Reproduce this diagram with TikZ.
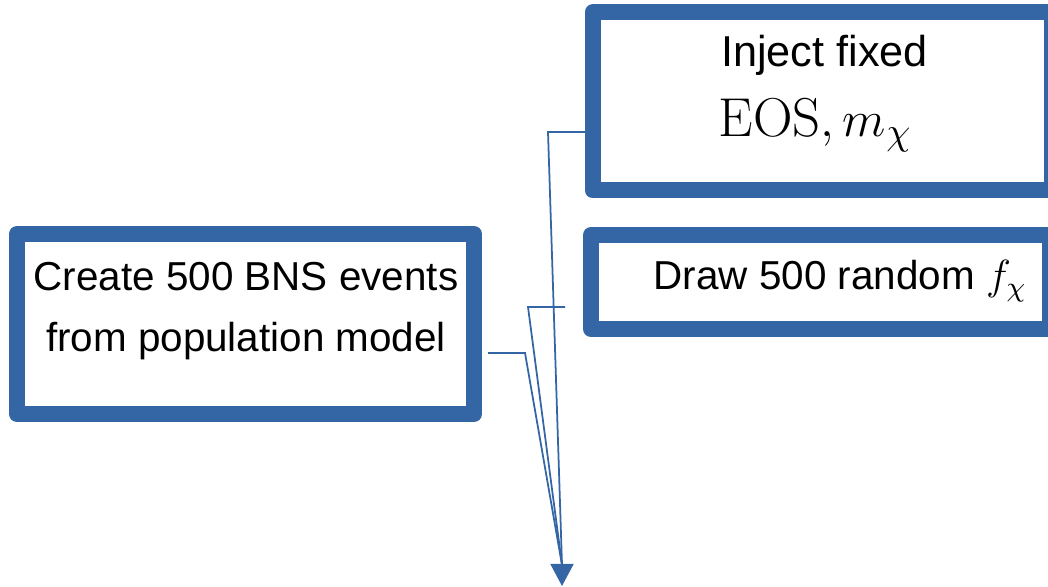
\documentclass[tikz,border=0pt]{standalone}
\usepackage{fontspec}
\setsansfont{Liberation Sans}
\definecolor{frameblue}{HTML}{3465A4}
\usetikzlibrary{arrows.meta}

\begin{document}
\begin{tikzpicture}[
  stepbox/.style={draw=frameblue, line width=0.16cm, line join=round,
                  fill=white, inner sep=0pt, outer sep=0pt},
  boxtext/.style={font=\sffamily\fontsize{11.5}{17.4}\selectfont,
                  align=center, inner sep=0pt},
  link/.style={draw=frameblue, line width=0.5pt},
]
\useasboundingbox (0,0) rectangle (10.48,5.87);

\node[stepbox, minimum width=4.57cm, minimum height=1.80cm] (bns) at (2.455,2.63) {};
\node[boxtext] (bnstext) at (2.46,2.76) {Create 500 BNS events\\from population model};

\node[stepbox, minimum width=4.59cm, minimum height=1.78cm] (eos) at (8.22,4.855) {};
\node[boxtext, anchor=base, font=\sffamily\fontsize{12.3}{15}\selectfont] (eostext) at (8.245,5.20) {Inject fixed};
\node[boxtext, anchor=base, font=\fontsize{15.6}{19}\selectfont] (eosmath) at (8.155,4.50) {$\mathrm{EOS}, m_\chi$};

\node[stepbox, minimum width=4.59cm, minimum height=0.94cm] (frand) at (8.205,3.05) {};
\node[boxtext, anchor=base west] (frandtext) at (6.53,2.97) {Draw 500 random $f_\chi$};

\coordinate (merge) at (5.62,0.22);
\coordinate (tip) at (5.62,0.01);

\draw[link] ([yshift=-0.305cm]eos.west) -- ++(-0.445,0) -- (merge);
\draw[link] ([xshift=-0.26cm, yshift=-0.25cm]frand.west) -- ++(-0.37,0) -- (merge);
\draw[link] ([xshift=0.14cm, yshift=-0.29cm]bns.east) -- ++(0.37,0) -- (merge);
\draw[link, -{Triangle[width=0.23cm, length=0.22cm]}] (merge) -- (tip);
\end{tikzpicture}
\end{document}
